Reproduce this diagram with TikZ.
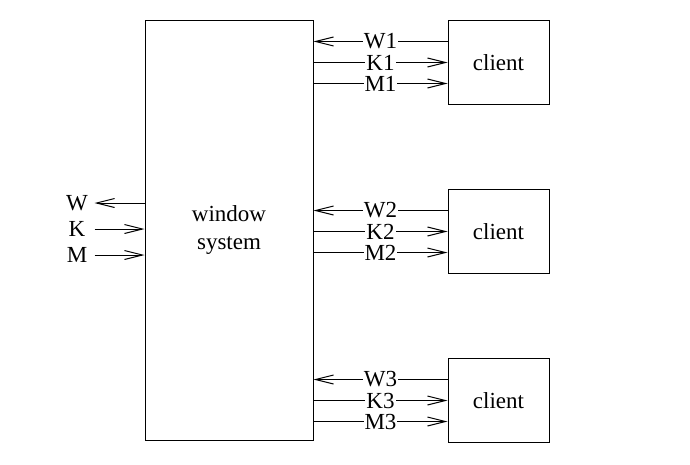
\documentclass[tikz,border=0pt]{standalone}
\usepackage{fontspec}
\setmainfont{Liberation Serif}
\usetikzlibrary{arrows.meta}
\usetikzlibrary{positioning}
\tikzset{> = {Straight Barb[length=9pt, width=4.5pt]},
  box/.style = {draw, rectangle, align=center, inner sep=0pt},
  lbl/.style = {fill=white, inner sep=0.5pt},
  side/.style = {inner sep=0pt, minimum width=17pt}}

\begin{document}
\begin{tikzpicture}[x=0.5pt, y=-0.5pt, line width=0.5pt, font=\fontsize{11.5}{14}\selectfont]
    \useasboundingbox (0,0) rectangle (690,465);
    \node [box, minimum width=84pt, minimum height=210pt] (ws) at (229,230.5) {window\\system};
    \node [box, minimum width=50.5pt, minimum height=42pt, below right=0pt and 67pt of ws.north east] (c1) {client};
    \node [box, minimum width=50.5pt, minimum height=42pt, below=42pt of c1] (c2) {client};
    \node [box, minimum width=50.5pt, minimum height=42pt, below=42pt of c2] (c3) {client};
    % outside
    \node [side] (W) at (77,203) {W};
    \node [side] (K) at (77,229) {K};
    \node [side] (M) at (77,255) {M};
    \draw [<-] (W.east) -- (ws.west |- W.east);
    \draw [->] (K.east) -- (ws.west |- K.east);
    \draw [->] (M.east) -- (ws.west |- M.east);
    % client 1
    \coordinate (w1) at ([yshift=10.5pt]c1.west);
    \coordinate (m1) at ([yshift=-10.5pt]c1.west);
    \draw [<-] (ws.east |- w1) -- node [lbl] {W1} (w1);
    \draw [->] (ws.east |- c1.west) -- node [lbl] {K1} (c1.west);
    \draw [->] (ws.east |- m1) -- node [lbl] {M1} (m1);
    % client 2
    \coordinate (w2) at ([yshift=10.5pt]c2.west);
    \coordinate (m2) at ([yshift=-10.5pt]c2.west);
    \draw [<-] (ws.east |- w2) -- node [lbl] {W2} (w2);
    \draw [->] (ws.east |- c2.west) -- node [lbl] {K2} (c2.west);
    \draw [->] (ws.east |- m2) -- node [lbl] {M2} (m2);
    % client 3
    \coordinate (w3) at ([yshift=10.5pt]c3.west);
    \coordinate (m3) at ([yshift=-10.5pt]c3.west);
    \draw [<-] (ws.east |- w3) -- node [lbl] {W3} (w3);
    \draw [->] (ws.east |- c3.west) -- node [lbl] {K3} (c3.west);
    \draw [->] (ws.east |- m3) -- node [lbl] {M3} (m3);
\end{tikzpicture}
\end{document}
